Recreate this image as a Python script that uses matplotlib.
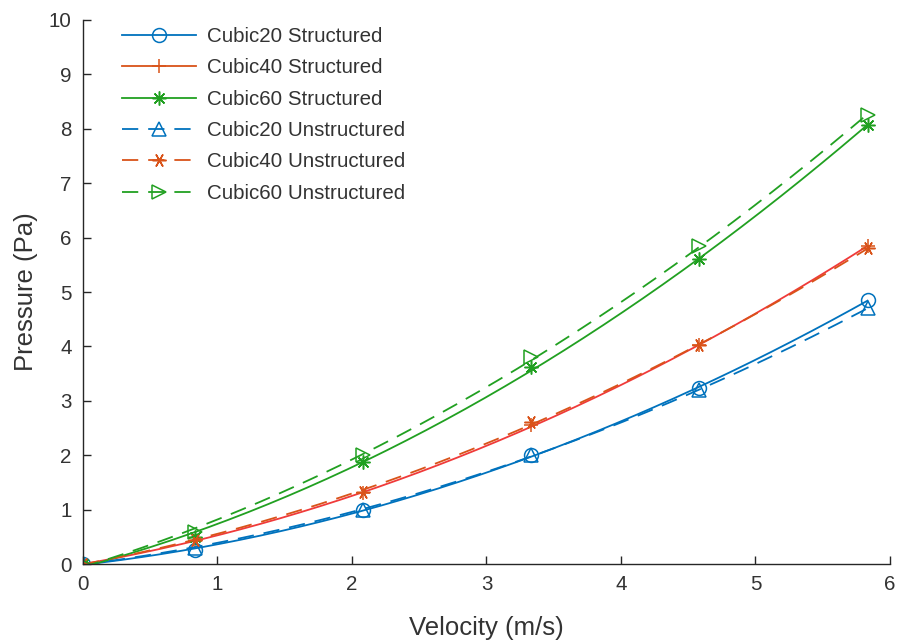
import numpy as np
import matplotlib
matplotlib.use("Agg")
import matplotlib.pyplot as plt
from matplotlib.lines import Line2D

plt.rcParams['font.family'] = ['Liberation Sans', 'DejaVu Sans']

velocity = [0.0, 0.833, 2.083, 3.333, 4.583, 5.833]
c20_struct = [0.0, 0.26, 0.99, 2.00, 3.23, 4.85]
c40_struct = [0.0, 0.43, 1.30, 2.55, 4.02, 5.85]
c60_struct = [0.0, 0.50, 1.87, 3.62, 5.60, 8.07]
c20_unstr = [0.0, 0.30, 1.00, 2.00, 3.20, 4.70]
c40_unstr = [0.0, 0.45, 1.33, 2.61, 4.02, 5.80]
c60_unstr = [0.0, 0.58, 2.00, 3.80, 5.84, 8.25]
labels = ["Cubic20 Structured", "Cubic40 Structured", "Cubic60 Structured",
          "Cubic20 Unstructured", "Cubic40 Unstructured", "Cubic60 Unstructured"]

blue = '#0072BD'
orange = '#D95319'
green = '#21A021'
red = '#F03A3A'
txt = '#333333'

series = [
    (c20_struct, blue, blue, 'o', '-'),
    (c40_struct, orange, red, '+', '-'),
    (c60_struct, green, green, (8, 2, 0), '-'),
    (c20_unstr, blue, blue, '^', '--'),
    (c40_unstr, orange, orange, (6, 2, 90), '--'),
    (c60_unstr, green, green, '>', '--'),
]

fig = plt.figure(figsize=(9.03, 6.41), dpi=100)
ax = fig.add_axes([0.0919, 0.1201, 0.8937, 0.8487])

x = np.array(velocity)
xf = np.linspace(0, x.max(), 200)
handles = []
lw = 1.3
dash = (9, 5.5)
for y, mcol, lcol, mk, ls in series:
    y = np.array(y)
    p = np.polyfit(x, y, 2)
    kw = dict(color=lcol, lw=lw)
    if ls == '--':
        kw['dashes'] = dash
    ax.plot(xf, np.polyval(p, xf), **kw)
    ax.plot(x, y, linestyle='none', marker=mk, markersize=10,
            markerfacecolor='none', markeredgecolor=mcol, markeredgewidth=1.1)
    hkw = dict(color=mcol, lw=lw, marker=mk, markersize=10,
               markerfacecolor='none', markeredgecolor=mcol, markeredgewidth=1.1)
    if ls == '--':
        hkw['dashes'] = dash
    handles.append(Line2D([], [], **hkw))

ax.set_xlim(0, 6)
ax.set_ylim(0, 10)
ax.set_xticks(range(0, 7))
ax.set_yticks(range(0, 11))
for s in ['top', 'right']:
    ax.spines[s].set_visible(False)
for s in ['left', 'bottom']:
    ax.spines[s].set_color('#262626')
    ax.spines[s].set_linewidth(1.0)
ax.tick_params(direction='in', length=6, width=1.0, colors='#262626',
               labelsize=14.8, pad=8)
for t in ax.get_xticklabels() + ax.get_yticklabels():
    t.set_color(txt)
ax.set_xlabel('Velocity (m/s)', fontsize=18.5, color=txt, labelpad=16)
ax.set_ylabel('Pressure (Pa)', fontsize=18.5, color=txt, labelpad=8)

leg = ax.legend(handles, labels, loc='upper left', frameon=False,
                fontsize=14.8, handlelength=3.6, handletextpad=0.5,
                labelspacing=0.6, bbox_to_anchor=(0.026, 1.021))
for t in leg.get_texts():
    t.set_color(txt)

fig.savefig('out.png', dpi=100)
